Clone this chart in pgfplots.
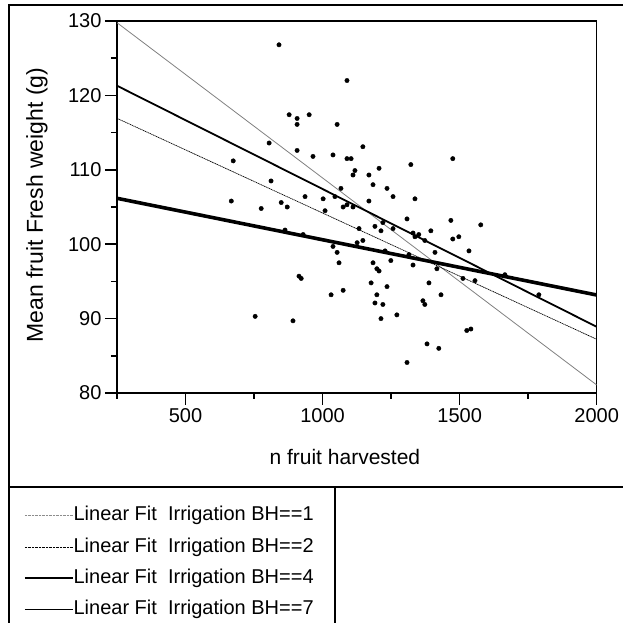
\documentclass[border=0pt]{standalone}
\usepackage{fontspec}
\setmainfont{Liberation Sans}
\usepackage{pgfplots}
\pgfplotsset{compat=1.18}
\begin{document}
\begin{tikzpicture}
\path[use as bounding box] (0,0) rectangle (622pt,623pt);
\draw[line width=2pt] (9pt,-2pt) -- (9pt,618pt) -- (624pt,618pt);
\draw[line width=2pt] (9pt,136pt) -- (624pt,136pt);
\draw[line width=2pt] (335pt,136pt) -- (335pt,-2pt);
\begin{axis}[
  at={(117pt,230pt)}, anchor=south west,
  scale only axis, width=479.7pt, height=372pt,
  xmin=250, xmax=2000, ymin=80, ymax=130,
  xtick={500,1000,1500,2000}, minor xtick={250,750,1250,1750},
  ytick={80,90,...,130}, minor ytick={85,95,...,125},
  xtick pos=left, ytick pos=left, tick align=outside,
  major tick length=12pt, minor tick length=6pt,
  tick style={black, line width=1.5pt},
  axis line style={line width=1.5pt},
  /pgf/number format/assume math mode=true,
  /pgf/number format/1000 sep={},
  tick label style={font=\fontsize{20}{24}\selectfont},
  xlabel={n fruit harvested},
  xlabel style={at={(axis description cs:0.475,-0.1935)}, anchor=base, font=\fontsize{21}{25}\selectfont},
  ylabel={Mean fruit Fresh weight (g)},
  ylabel style={at={(axis description cs:-0.1668,0.505)}, anchor=center, font=\fontsize{23}{27}\selectfont},
  legend image code/.code={\draw[#1] (0pt,0pt) -- (48pt,0pt);},
  legend cell align=left,
  legend style={at={(axis description cs:-0.1939,-0.3043)}, anchor=north west,
    draw=none, fill=none, inner sep=0pt, outer sep=0pt,
    font=\fontsize{20}{24}\selectfont, row sep=12.9pt,
    nodes={inner sep=0pt, text height=14.5pt, text depth=4pt}},
]
\addplot[only marks, mark=*, mark size=2.2pt, black, forget plot] table {
x y
841 126.8
878 117.4
907 116.9
907 116.1
951 117.4
805 113.6
907 112.6
965 111.8
1038 112.0
674 111.2
812 108.5
1089 122.0
1053 116.1
1147 113.1
1089 111.5
1104 111.5
1322 110.7
1475 111.5
1118 109.9
1111 109.3
1169 109.3
1206 110.2
1184 108.0
1235 107.5
1067 107.5
936 106.4
1002 106.1
1045 106.4
1257 106.4
1337 106.1
1169 105.8
1009 104.5
1075 105.0
1089 105.3
1111 105.0
1308 103.4
1468 103.2
667 105.8
776 104.8
849 105.6
871 105.0
863 101.9
929 101.3
1038 99.7
914 95.7
922 95.4
1031 93.2
754 90.3
892 89.7
1220 102.9
1191 102.4
1213 101.8
1257 102.1
1133 102.1
1330 101.5
1351 101.3
1337 101.0
1395 101.8
1373 100.5
1475 100.7
1497 101.0
1147 100.5
1126 100.2
1053 98.9
1228 99.1
1315 98.6
1410 98.9
1249 97.8
1184 97.5
1060 97.5
1330 97.2
1198 96.7
1206 96.4
1417 96.7
1512 95.4
1177 94.8
1388 94.8
1235 94.3
1075 93.8
1198 93.2
1432 93.2
1191 92.1
1220 91.9
1366 92.4
1373 91.9
1271 90.5
1213 90.0
1381 86.6
1577 102.6
1534 99.1
1665 95.9
1556 95.1
1789 93.2
1526 88.4
1541 88.6
1424 86.0
1308 84.1
};
\addplot[black!50, line width=0.8pt, forget plot] coordinates {(250,129.77) (2000,81.08)};
\addplot[black, line width=0.7pt, dash pattern=on 1.2pt off 0.6pt, forget plot] coordinates {(250,116.92) (2000,87.22)};
\addplot[black, line width=1.8pt, forget plot] coordinates {(250,121.3) (2000,88.9)};
\addplot[black, line width=3.6pt, forget plot] coordinates {(250,106.17) (2000,93.17)};
\addlegendimage{black!45, line width=0.6pt, dash pattern=on 0.8pt off 0.6pt}
\addlegendentry{Linear Fit\ \ Irrigation BH==1}
\addlegendimage{black, line width=0.6pt, dash pattern=on 0.8pt off 0.6pt}
\addlegendentry{Linear Fit\ \ Irrigation BH==2}
\addlegendimage{black, line width=1.6pt}
\addlegendentry{Linear Fit\ \ Irrigation BH==4}
\addlegendimage{black, line width=1.6pt}
\addlegendentry{Linear Fit\ \ Irrigation BH==7}
\end{axis}
\end{tikzpicture}
\end{document}
